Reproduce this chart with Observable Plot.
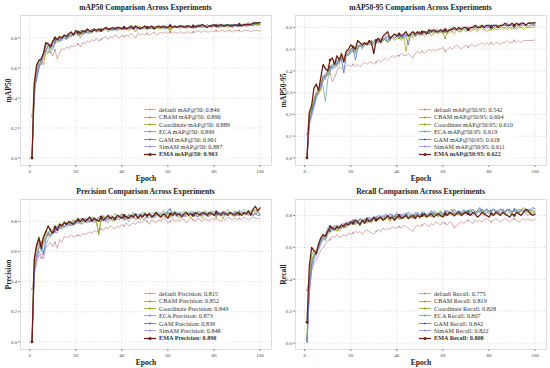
<!DOCTYPE html>
<html><head><meta charset="utf-8">
<script src="https://cdn.jsdelivr.net/npm/d3@7"></script>
<script src="https://cdn.jsdelivr.net/npm/@observablehq/plot@0.6"></script>
<style>
body{margin:0;background:#fff;font-family:"Liberation Serif","DejaVu Serif",serif;}
#grid{position:relative;width:550px;height:368px;overflow:hidden;}
.panel{position:absolute;width:275px;height:184px;}
.title{position:absolute;top:1px;left:20px;width:251px;height:13px;line-height:13px;text-align:center;font-weight:bold;font-size:7.6px;color:#222;}
.panel svg{position:absolute;left:0;top:13px;}
g[aria-label="x-axis label"] text, g[aria-label="y-axis label"] text{font-size:7.6px;font-weight:bold;fill:#222;}
.legend{position:absolute;left:142px;top:106px;font-size:6.2px;color:#333;background:rgba(255,255,255,0.8);padding:0 2px;}
.legend div{height:7.4px;line-height:7.4px;white-space:nowrap;display:flex;align-items:center;}
.legend svg{position:static;margin-right:3px;}
</style></head>
<body><div id="grid"></div>
<script>
const models = ["default","CBAM","Coordinate","ECA","GAM","SimAM","EMA"];
const colors = ["#c8918f","#b39a1e","#84a31c","#6fa0a8","#3a6fb5","#8f8fe6","#6b2010"];
const xTicks = [0,20,40,60,80,100];

// mAP50
const map50_default = [.28,.46,.55,.60,.63,.66,.69,.70,.71,.68,.72,.66,.70,.73,.72,.74,.73,.75,.74,.75,.76,.74,.77,.76,.78,.77,.79,.78,.80,.78,.79,.80,.81,.79,.81,.80,.82,.81,.80,.82,.81,.82,.81,.83,.82,.80,.83,.82,.83,.82,.83,.82,.83,.84,.82,.83,.84,.83,.84,.83,.84,.83,.84,.83,.84,.84,.83,.84,.84,.83,.84,.84,.85,.84,.84,.85,.84,.84,.85,.84,.85,.84,.85,.85,.84,.85,.85,.84,.85,.85,.85,.84,.85,.85,.85,.84,.85,.85,.85,.846];
const map50_cbam = [0,.45,.58,.64,.66,.62,.72,.70,.74,.76,.78,.77,.80,.79,.81,.80,.82,.81,.83,.84,.82,.84,.83,.85,.84,.83,.85,.86,.84,.85,.86,.85,.87,.84,.86,.86,.85,.87,.86,.86,.87,.86,.85,.86,.87,.84,.87,.88,.86,.87,.86,.87,.87,.86,.88,.87,.86,.87,.88,.87,.84,.87,.88,.87,.88,.87,.88,.86,.88,.87,.88,.87,.88,.88,.87,.88,.89,.88,.87,.88,.88,.87,.88,.89,.88,.87,.88,.88,.89,.88,.88,.89,.88,.88,.89,.88,.89,.89,.89,.890];
const map50_coord = [0,.50,.60,.66,.65,.68,.74,.76,.73,.77,.79,.78,.79,.80,.82,.81,.80,.83,.82,.84,.83,.82,.84,.85,.83,.85,.84,.85,.86,.84,.86,.85,.86,.85,.87,.86,.86,.85,.87,.86,.86,.87,.86,.87,.86,.87,.86,.87,.87,.86,.87,.86,.87,.88,.87,.86,.87,.88,.87,.87,.86,.88,.87,.87,.88,.87,.88,.87,.87,.88,.87,.88,.88,.87,.88,.88,.87,.88,.88,.88,.88,.87,.88,.88,.89,.88,.88,.87,.88,.89,.88,.88,.89,.88,.88,.89,.88,.89,.89,.889];
const map50_eca = [0,.40,.55,.62,.64,.70,.72,.74,.70,.76,.78,.79,.77,.80,.81,.79,.82,.81,.82,.83,.84,.80,.82,.84,.85,.83,.84,.85,.85,.86,.85,.86,.86,.87,.85,.86,.87,.86,.86,.87,.87,.86,.87,.87,.86,.88,.87,.87,.86,.87,.87,.88,.86,.87,.88,.87,.88,.87,.86,.87,.88,.87,.88,.87,.88,.88,.87,.88,.88,.87,.88,.88,.89,.88,.87,.88,.89,.88,.88,.88,.89,.88,.88,.89,.88,.89,.88,.89,.88,.89,.89,.88,.89,.89,.89,.89,.90,.89,.90,.899];
const map50_gam = [0,.48,.52,.60,.66,.69,.71,.75,.76,.74,.77,.80,.78,.81,.80,.79,.83,.82,.83,.84,.83,.85,.84,.83,.85,.84,.86,.85,.84,.86,.85,.86,.87,.86,.86,.85,.87,.86,.87,.86,.87,.86,.87,.86,.88,.87,.86,.87,.87,.88,.87,.86,.88,.87,.87,.88,.87,.87,.88,.87,.88,.87,.87,.88,.87,.88,.88,.87,.88,.88,.87,.88,.88,.89,.88,.88,.87,.88,.89,.88,.88,.89,.88,.88,.89,.88,.89,.89,.88,.89,.89,.89,.88,.89,.90,.89,.89,.90,.90,.901];
const map50_simam = [0,.47,.56,.63,.62,.70,.75,.77,.74,.72,.77,.79,.80,.78,.82,.80,.81,.83,.82,.82,.84,.83,.82,.85,.84,.83,.85,.86,.85,.84,.86,.85,.86,.86,.85,.87,.86,.85,.86,.87,.86,.87,.86,.87,.86,.86,.87,.86,.87,.87,.86,.87,.87,.86,.87,.87,.88,.86,.87,.88,.89,.87,.87,.88,.86,.87,.88,.87,.88,.87,.87,.88,.87,.88,.88,.87,.88,.88,.87,.88,.88,.88,.87,.88,.88,.89,.88,.88,.88,.88,.88,.88,.89,.88,.88,.89,.88,.89,.88,.887];
const map50_ema = [0,.50,.62,.65,.66,.70,.77,.76,.74,.78,.80,.79,.81,.80,.82,.81,.83,.84,.82,.85,.84,.83,.85,.84,.86,.85,.84,.86,.85,.86,.85,.86,.87,.86,.86,.87,.86,.87,.87,.86,.87,.86,.87,.88,.86,.88,.87,.86,.87,.88,.87,.87,.88,.86,.87,.88,.87,.88,.87,.87,.88,.87,.88,.87,.88,.88,.87,.88,.88,.87,.88,.87,.88,.88,.89,.88,.87,.88,.88,.89,.88,.88,.89,.88,.88,.89,.88,.88,.89,.88,.89,.88,.89,.89,.89,.89,.90,.90,.90,.903];

// mAP50-95
const map5095_default = [.11,.20,.22,.25,.28,.30,.32,.36,.37,.38,.39,.35,.37,.40,.42,.41,.42,.42,.43,.42,.43,.42,.43,.42,.43,.44,.43,.44,.44,.43,.44,.45,.44,.45,.46,.45,.46,.47,.46,.47,.47,.48,.47,.47,.48,.47,.46,.48,.49,.48,.49,.48,.49,.50,.49,.50,.49,.50,.50,.51,.49,.50,.51,.50,.51,.52,.51,.50,.51,.52,.51,.52,.52,.51,.52,.52,.53,.52,.53,.52,.53,.52,.53,.53,.52,.53,.53,.54,.53,.53,.54,.53,.54,.53,.54,.54,.54,.54,.54,.542];
const map5095_cbam = [0,.18,.21,.26,.30,.29,.33,.37,.36,.40,.42,.43,.44,.45,.44,.46,.47,.48,.49,.50,.49,.51,.50,.52,.51,.52,.53,.52,.53,.52,.53,.54,.53,.54,.55,.53,.54,.55,.54,.55,.55,.54,.56,.49,.55,.56,.55,.56,.57,.56,.57,.56,.57,.58,.56,.57,.58,.57,.58,.57,.58,.57,.58,.58,.57,.59,.58,.58,.59,.58,.59,.58,.59,.59,.58,.59,.60,.59,.58,.59,.59,.60,.59,.59,.60,.59,.60,.59,.60,.59,.60,.59,.60,.60,.59,.60,.60,.60,.60,.604];
const map5095_coord = [0,.20,.22,.27,.30,.32,.31,.36,.39,.38,.41,.43,.44,.42,.45,.46,.45,.48,.47,.50,.51,.49,.52,.51,.53,.52,.53,.53,.52,.53,.54,.53,.54,.55,.54,.54,.55,.56,.55,.56,.55,.56,.55,.56,.57,.56,.57,.56,.57,.58,.57,.58,.57,.58,.58,.57,.58,.59,.58,.58,.55,.58,.59,.58,.59,.59,.58,.59,.60,.59,.59,.60,.59,.60,.59,.60,.60,.59,.60,.60,.60,.59,.60,.60,.61,.60,.60,.61,.60,.60,.61,.60,.61,.60,.61,.61,.60,.61,.61,.610];
const map5095_eca = [0,.16,.20,.24,.28,.30,.34,.33,.26,.36,.40,.42,.41,.44,.43,.46,.45,.48,.47,.49,.50,.48,.51,.52,.50,.52,.53,.52,.54,.53,.53,.54,.55,.54,.55,.53,.55,.56,.55,.56,.56,.55,.56,.57,.56,.57,.56,.57,.57,.58,.57,.58,.58,.57,.58,.58,.59,.58,.59,.58,.59,.58,.59,.59,.60,.59,.59,.60,.59,.60,.60,.59,.60,.60,.61,.60,.60,.61,.60,.60,.61,.60,.61,.61,.60,.61,.61,.60,.61,.61,.61,.62,.61,.61,.62,.61,.62,.62,.62,.619];
const map5095_gam = [0,.17,.21,.25,.29,.31,.34,.38,.37,.40,.42,.41,.44,.43,.46,.45,.39,.47,.48,.50,.51,.45,.50,.52,.51,.53,.52,.53,.54,.53,.54,.53,.55,.54,.55,.56,.54,.56,.55,.56,.56,.55,.57,.56,.52,.57,.58,.56,.57,.58,.57,.58,.58,.57,.59,.58,.59,.58,.58,.59,.58,.59,.59,.60,.59,.59,.60,.59,.60,.60,.59,.60,.60,.61,.60,.60,.61,.60,.61,.60,.61,.60,.61,.61,.60,.61,.61,.62,.61,.61,.60,.61,.62,.61,.62,.61,.62,.62,.61,.618];
const map5095_simam = [0,.15,.19,.23,.27,.31,.33,.35,.38,.39,.41,.43,.42,.45,.44,.47,.46,.48,.49,.48,.50,.51,.50,.52,.51,.53,.52,.54,.53,.54,.53,.55,.54,.55,.56,.54,.56,.55,.56,.57,.56,.57,.55,.57,.56,.57,.58,.57,.58,.57,.58,.57,.58,.58,.59,.58,.58,.59,.58,.59,.59,.58,.59,.60,.59,.59,.60,.59,.60,.59,.60,.59,.60,.60,.59,.61,.60,.60,.61,.60,.60,.61,.60,.61,.60,.61,.61,.60,.61,.61,.61,.60,.61,.61,.62,.61,.61,.61,.61,.611];
const map5095_ema = [0,.21,.24,.32,.34,.31,.37,.43,.41,.40,.45,.46,.43,.47,.45,.48,.44,.49,.50,.52,.51,.50,.54,.53,.52,.53,.52,.54,.53,.48,.54,.55,.53,.56,.57,.58,.55,.56,.57,.56,.57,.56,.57,.58,.56,.57,.58,.57,.58,.57,.58,.58,.57,.59,.58,.59,.58,.58,.59,.58,.59,.58,.59,.59,.60,.59,.60,.59,.60,.60,.59,.60,.60,.61,.60,.60,.61,.60,.61,.61,.60,.61,.61,.60,.61,.61,.62,.61,.61,.62,.61,.62,.61,.62,.62,.61,.62,.62,.62,.622];

// Precision
const prec_default = [.35,.45,.52,.58,.55,.60,.63,.64,.66,.63,.66,.62,.68,.66,.70,.69,.70,.71,.70,.70,.71,.70,.72,.71,.72,.73,.72,.74,.73,.74,.75,.74,.76,.75,.77,.76,.75,.77,.76,.78,.77,.79,.77,.78,.79,.78,.80,.79,.80,.81,.80,.78,.81,.80,.79,.81,.80,.82,.81,.79,.80,.82,.80,.81,.80,.82,.81,.79,.81,.82,.81,.80,.82,.81,.80,.82,.81,.80,.82,.81,.82,.81,.80,.82,.81,.83,.82,.81,.82,.81,.82,.81,.83,.82,.81,.82,.83,.82,.82,.815];
const prec_cbam = [0,.52,.62,.70,.64,.66,.72,.70,.74,.72,.76,.74,.78,.75,.80,.78,.77,.79,.80,.78,.81,.79,.80,.82,.79,.81,.80,.82,.79,.72,.82,.80,.83,.81,.82,.80,.83,.82,.81,.84,.82,.81,.83,.82,.84,.82,.83,.81,.84,.82,.83,.84,.82,.83,.85,.83,.82,.84,.83,.85,.84,.83,.85,.84,.82,.84,.85,.83,.84,.82,.84,.85,.83,.84,.82,.85,.84,.83,.85,.84,.83,.85,.84,.82,.85,.84,.86,.84,.83,.85,.84,.86,.85,.84,.85,.86,.84,.85,.86,.852];
const prec_coord = [0,.55,.65,.68,.66,.69,.74,.72,.75,.74,.77,.76,.79,.77,.80,.79,.78,.80,.81,.80,.82,.80,.81,.79,.82,.80,.81,.83,.80,.71,.81,.83,.82,.84,.81,.83,.82,.84,.83,.85,.83,.82,.84,.83,.85,.84,.83,.85,.84,.86,.84,.85,.83,.85,.86,.84,.85,.84,.86,.85,.84,.86,.85,.84,.86,.85,.84,.85,.86,.84,.85,.84,.86,.85,.84,.86,.85,.84,.86,.85,.84,.86,.85,.84,.85,.86,.85,.84,.86,.85,.86,.84,.85,.86,.85,.84,.86,.88,.86,.849];
const prec_eca = [0,.50,.58,.66,.60,.65,.70,.73,.71,.73,.75,.77,.76,.78,.79,.77,.80,.79,.78,.81,.80,.82,.81,.80,.82,.81,.83,.82,.81,.83,.82,.84,.83,.82,.84,.83,.85,.84,.83,.85,.84,.83,.85,.84,.86,.84,.85,.84,.86,.85,.84,.86,.85,.86,.84,.86,.85,.87,.85,.86,.85,.86,.87,.85,.86,.85,.87,.86,.85,.87,.86,.85,.87,.86,.85,.87,.86,.85,.87,.86,.87,.86,.85,.87,.86,.88,.86,.85,.87,.86,.87,.86,.88,.87,.86,.87,.88,.86,.87,.873];
const prec_gam = [0,.48,.56,.62,.66,.58,.68,.72,.70,.74,.73,.76,.75,.78,.76,.79,.78,.77,.80,.79,.81,.78,.80,.82,.81,.79,.82,.80,.81,.82,.81,.83,.80,.82,.83,.81,.83,.82,.84,.82,.83,.82,.84,.83,.82,.84,.83,.85,.83,.84,.83,.85,.84,.83,.85,.84,.83,.85,.84,.87,.88,.85,.84,.86,.84,.85,.83,.85,.84,.86,.84,.85,.83,.85,.84,.86,.85,.84,.85,.84,.85,.84,.86,.85,.84,.85,.86,.84,.85,.84,.85,.84,.86,.85,.84,.85,.84,.85,.84,.839];
const prec_simam = [0,.46,.55,.60,.57,.55,.64,.68,.70,.72,.74,.72,.76,.75,.77,.76,.79,.78,.77,.80,.79,.81,.78,.80,.79,.81,.80,.79,.81,.80,.82,.80,.81,.79,.82,.81,.80,.82,.81,.83,.81,.82,.80,.82,.83,.81,.82,.83,.82,.81,.83,.82,.84,.82,.83,.85,.83,.84,.82,.84,.83,.85,.84,.83,.84,.85,.83,.84,.86,.84,.85,.83,.84,.86,.84,.85,.83,.84,.86,.85,.84,.86,.85,.84,.86,.85,.84,.85,.86,.84,.85,.86,.84,.85,.86,.85,.84,.86,.85,.848];
const prec_ema = [0,.55,.64,.69,.62,.70,.73,.77,.74,.72,.76,.74,.78,.77,.79,.78,.80,.79,.78,.80,.81,.80,.82,.80,.81,.83,.80,.82,.81,.80,.83,.81,.82,.84,.82,.83,.81,.84,.83,.82,.84,.83,.82,.84,.83,.85,.82,.84,.83,.85,.84,.85,.83,.84,.86,.84,.83,.85,.84,.82,.85,.84,.86,.84,.85,.83,.85,.86,.84,.85,.84,.86,.85,.84,.86,.85,.84,.86,.85,.84,.86,.85,.84,.86,.85,.84,.86,.85,.84,.86,.85,.84,.86,.85,.87,.84,.88,.90,.87,.890];

// Recall
const rec_default = [.33,.40,.46,.50,.52,.55,.58,.60,.62,.64,.65,.67,.66,.68,.66,.67,.68,.67,.69,.68,.69,.70,.69,.70,.68,.70,.71,.70,.69,.68,.70,.71,.70,.72,.71,.72,.71,.73,.72,.72,.73,.72,.74,.73,.72,.71,.70,.73,.74,.73,.74,.75,.74,.73,.75,.74,.76,.75,.74,.76,.75,.74,.76,.75,.72,.74,.75,.76,.75,.76,.77,.76,.75,.77,.76,.77,.76,.77,.78,.77,.76,.77,.78,.77,.76,.77,.78,.77,.76,.77,.78,.77,.76,.77,.78,.77,.78,.77,.77,.775];
const rec_cbam = [.02,.38,.52,.56,.55,.60,.64,.66,.65,.68,.70,.72,.71,.73,.70,.72,.74,.73,.76,.75,.76,.74,.77,.75,.77,.76,.78,.77,.75,.78,.77,.79,.78,.77,.79,.78,.76,.79,.78,.80,.79,.78,.80,.79,.78,.80,.79,.81,.80,.78,.80,.79,.81,.80,.79,.81,.80,.82,.79,.81,.80,.82,.81,.80,.82,.81,.80,.82,.81,.83,.81,.80,.82,.81,.83,.82,.84,.81,.82,.83,.82,.81,.83,.82,.81,.83,.82,.84,.82,.81,.83,.82,.81,.83,.82,.84,.82,.81,.82,.819];
const rec_coord = [.03,.42,.55,.58,.56,.62,.66,.68,.66,.70,.71,.73,.72,.70,.73,.74,.72,.75,.74,.76,.75,.77,.76,.78,.76,.77,.75,.79,.77,.78,.79,.77,.78,.80,.78,.79,.77,.80,.79,.78,.80,.79,.78,.81,.79,.80,.78,.81,.80,.79,.81,.80,.79,.81,.80,.82,.80,.81,.83,.80,.82,.81,.83,.84,.81,.82,.83,.81,.82,.83,.82,.84,.81,.83,.82,.84,.83,.82,.84,.83,.82,.84,.83,.82,.83,.84,.82,.83,.84,.82,.83,.84,.82,.83,.85,.83,.82,.84,.83,.828];
const rec_eca = [.01,.36,.50,.55,.58,.61,.65,.67,.64,.69,.72,.70,.73,.71,.72,.74,.73,.72,.75,.74,.76,.75,.77,.74,.76,.78,.76,.77,.76,.78,.77,.78,.79,.77,.78,.80,.79,.78,.80,.79,.78,.80,.79,.81,.79,.80,.78,.80,.81,.79,.80,.81,.79,.80,.82,.80,.81,.79,.81,.80,.81,.80,.82,.81,.79,.82,.81,.80,.82,.81,.82,.81,.80,.82,.81,.83,.81,.80,.82,.81,.82,.80,.81,.83,.81,.82,.80,.81,.82,.81,.80,.82,.81,.80,.82,.81,.80,.82,.81,.807];
const rec_gam = [.01,.30,.48,.54,.57,.60,.63,.66,.68,.72,.70,.73,.71,.74,.73,.72,.75,.74,.76,.75,.77,.76,.75,.78,.77,.76,.79,.77,.78,.79,.78,.80,.79,.78,.80,.79,.81,.80,.79,.81,.80,.79,.81,.80,.82,.80,.81,.79,.82,.80,.81,.82,.80,.81,.83,.81,.82,.80,.82,.81,.82,.83,.81,.82,.84,.82,.83,.81,.83,.82,.83,.82,.84,.82,.83,.85,.82,.83,.84,.82,.83,.84,.82,.83,.84,.83,.82,.84,.83,.82,.84,.83,.82,.84,.83,.82,.84,.83,.85,.842];
const rec_simam = [.01,.32,.45,.52,.55,.58,.62,.65,.66,.70,.72,.71,.74,.72,.73,.75,.74,.76,.75,.77,.76,.78,.77,.75,.78,.77,.76,.79,.78,.77,.79,.78,.80,.79,.81,.80,.79,.81,.80,.82,.80,.81,.79,.82,.80,.81,.80,.82,.81,.80,.82,.81,.80,.82,.81,.83,.82,.80,.82,.81,.83,.82,.81,.83,.82,.81,.83,.82,.84,.82,.81,.83,.82,.81,.83,.82,.84,.83,.82,.83,.82,.84,.83,.82,.83,.84,.82,.83,.84,.82,.83,.82,.84,.83,.82,.83,.84,.82,.83,.822];
const rec_ema = [.13,.48,.60,.58,.56,.62,.66,.68,.67,.70,.73,.72,.71,.73,.72,.74,.73,.75,.74,.76,.75,.77,.76,.74,.77,.75,.78,.76,.77,.79,.77,.78,.79,.77,.78,.80,.78,.79,.77,.79,.80,.78,.79,.80,.78,.79,.80,.78,.80,.79,.80,.81,.79,.80,.81,.79,.80,.81,.80,.79,.81,.80,.82,.81,.80,.81,.82,.80,.81,.82,.81,.80,.82,.81,.79,.80,.82,.81,.80,.79,.81,.80,.82,.81,.80,.82,.81,.80,.79,.81,.80,.82,.81,.80,.82,.84,.83,.81,.80,.808];

const panels = [
  {title:"mAP50 Comparison Across Experiments", ylabel:"mAP50", metric:"mAP@50",
   series:[map50_default,map50_cbam,map50_coord,map50_eca,map50_gam,map50_simam,map50_ema],
   yDomain:[-0.05,0.95], yTicks:[0,0.2,0.4,0.6,0.8], left:0, top:0},
  {title:"mAP50-95 Comparison Across Experiments", ylabel:"mAP50-95", metric:"mAP@50:95",
   series:[map5095_default,map5095_cbam,map5095_coord,map5095_eca,map5095_gam,map5095_simam,map5095_ema],
   yDomain:[-0.035,0.655], yTicks:[0,0.1,0.2,0.3,0.4,0.5,0.6], left:275, top:0},
  {title:"Precision Comparison Across Experiments", ylabel:"Precision", metric:"Precision",
   series:[prec_default,prec_cbam,prec_coord,prec_eca,prec_gam,prec_simam,prec_ema],
   yDomain:[-0.05,0.945], yTicks:[0,0.2,0.4,0.6,0.8], left:0, top:184},
  {title:"Recall Comparison Across Experiments", ylabel:"Recall", metric:"Recall",
   series:[rec_default,rec_cbam,rec_coord,rec_eca,rec_gam,rec_simam,rec_ema],
   yDomain:[-0.04,0.9], yTicks:[0,0.2,0.4,0.6,0.8], left:275, top:184}
];

const grid = document.getElementById("grid");
const f1 = d3.format(".1f"), f3 = d3.format(".3f");

for (const cfg of panels) {
  const div = document.createElement("div");
  div.className = "panel";
  div.style.left = cfg.left + "px";
  div.style.top = cfg.top + "px";
  const t = document.createElement("div");
  t.className = "title";
  t.textContent = cfg.title;
  div.appendChild(t);

  const marks = [
    Plot.gridX({ticks: xTicks, stroke: "#c8c8c8", strokeOpacity: 1, strokeWidth: 0.5, strokeDasharray: "1.5,1.5"}),
    Plot.gridY({ticks: cfg.yTicks, stroke: "#c8c8c8", strokeOpacity: 1, strokeWidth: 0.5, strokeDasharray: "1.5,1.5"}),
    Plot.frame({stroke: "#cfcfcf", strokeWidth: 0.7}),
    Plot.axisX({ticks: xTicks, tickSize: 2, tickPadding: 1.5, label: "Epoch", labelAnchor: "center", labelArrow: "none", labelOffset: 15, stroke: "#888", fill: "#444"}),
    Plot.axisY({ticks: cfg.yTicks, tickSize: 2, tickPadding: 1.5, tickFormat: f1, label: cfg.ylabel, labelAnchor: "center", labelArrow: "none", labelOffset: 15, stroke: "#888", fill: "#444"})
  ];
  models.forEach((m, i) => {
    const rows = cfg.series[i].map((v, j) => ({epoch: j + 1, value: v}));
    const ema = m === "EMA";
    marks.push(Plot.lineY(rows, {x: "epoch", y: "value", stroke: colors[i], strokeWidth: ema ? 1.3 : 0.75}));
    marks.push(Plot.dot(rows.filter(r => (r.epoch - 1) % 10 === 0), {x: "epoch", y: "value", fill: colors[i], r: ema ? 1.4 : 0.9}));
  });

  const svg = Plot.plot({
    width: 275, height: 171,
    marginLeft: 20, marginRight: 4, marginTop: 2, marginBottom: 19,
    x: {domain: [-4, 105]},
    y: {domain: cfg.yDomain},
    style: {fontFamily: "'Liberation Serif', 'DejaVu Serif', serif", fontSize: "5px", background: "transparent", overflow: "visible"},
    marks
  });
  div.appendChild(svg);

  const lg = document.createElement("div");
  lg.className = "legend";
  models.forEach((m, i) => {
    const row = document.createElement("div");
    const ema = m === "EMA";
    row.innerHTML = `<svg width="12" height="5"><line x1="0" x2="12" y1="2.5" y2="2.5" stroke="${colors[i]}" stroke-width="${ema ? 1.3 : 0.8}"/><circle cx="6" cy="2.5" r="${ema ? 1.5 : 1.1}" fill="${colors[i]}"/></svg><span style="font-weight:${ema ? "bold" : "normal"}">${m} ${cfg.metric}: ${f3(cfg.series[i][cfg.series[i].length - 1])}</span>`;
    lg.appendChild(row);
  });
  div.appendChild(lg);
  grid.appendChild(div);
}
</script></body></html>
